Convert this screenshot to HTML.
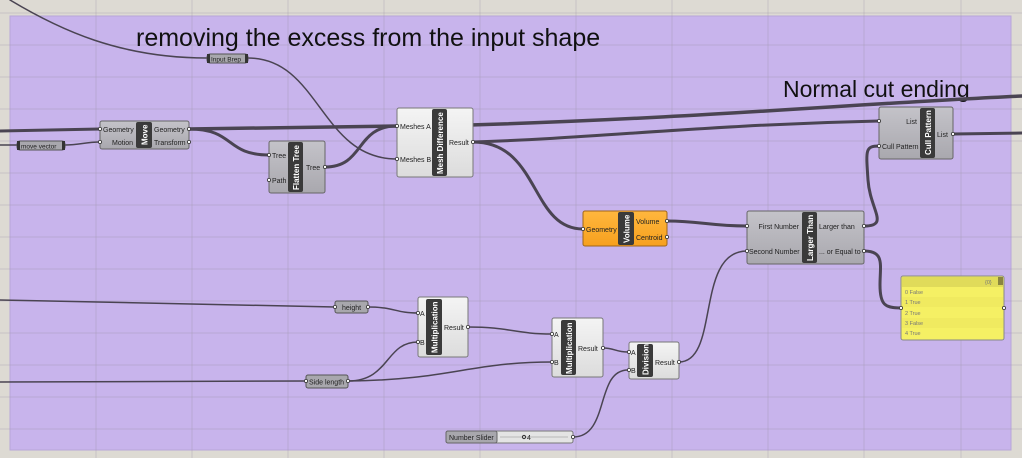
<!DOCTYPE html>
<html><head><meta charset="utf-8"><style>
html,body{margin:0;padding:0;width:1022px;height:458px;overflow:hidden;background:#dddad3}
svg{display:block}
text{font-family:"Liberation Sans",sans-serif}
</style></head><body>
<svg width="1022" height="458" viewBox="0 0 1022 458" xmlns="http://www.w3.org/2000/svg">
<defs>
<linearGradient id="gw" x1="0" y1="0" x2="0" y2="1"><stop offset="0" stop-color="#f4f4f4"/><stop offset="1" stop-color="#dcdcdc"/></linearGradient>
<linearGradient id="gg" x1="0" y1="0" x2="0" y2="1"><stop offset="0" stop-color="#c4c3c9"/><stop offset="1" stop-color="#a9a8ae"/></linearGradient>
<linearGradient id="go" x1="0" y1="0" x2="0" y2="1"><stop offset="0" stop-color="#ffb73e"/><stop offset="1" stop-color="#f7a01e"/></linearGradient>
</defs>
<rect x="0" y="0" width="1022" height="458" fill="#dddad3"/>
<rect x="10" y="16" width="1001" height="434" fill="#c8b4ec" stroke="#b8a6d8"/>
<g stroke="#9f94a8" stroke-opacity="0.35" stroke-width="1">
<line x1="96" y1="0" x2="96" y2="458"/><line x1="192" y1="0" x2="192" y2="458"/><line x1="288" y1="0" x2="288" y2="458"/><line x1="384" y1="0" x2="384" y2="458"/><line x1="480" y1="0" x2="480" y2="458"/><line x1="576" y1="0" x2="576" y2="458"/><line x1="672" y1="0" x2="672" y2="458"/><line x1="768" y1="0" x2="768" y2="458"/><line x1="864" y1="0" x2="864" y2="458"/><line x1="961" y1="0" x2="961" y2="458"/>
<line x1="0" y1="13" x2="1022" y2="13"/><line x1="0" y1="45" x2="1022" y2="45"/><line x1="0" y1="77" x2="1022" y2="77"/><line x1="0" y1="109" x2="1022" y2="109"/><line x1="0" y1="141" x2="1022" y2="141"/><line x1="0" y1="173" x2="1022" y2="173"/><line x1="0" y1="205" x2="1022" y2="205"/><line x1="0" y1="237" x2="1022" y2="237"/><line x1="0" y1="269" x2="1022" y2="269"/><line x1="0" y1="301" x2="1022" y2="301"/><line x1="0" y1="333" x2="1022" y2="333"/><line x1="0" y1="365" x2="1022" y2="365"/><line x1="0" y1="397" x2="1022" y2="397"/><line x1="0" y1="429" x2="1022" y2="429"/>
</g>
<text x="136" y="46" font-size="25" fill="#111">removing the excess from the input shape</text>
<text x="783" y="97" font-size="23" fill="#111">Normal cut ending</text>
<g fill="none" stroke="#4a4452" stroke-linecap="round">
<path d="M10,0 C60,30 120,58 207,58" stroke-width="1.5"/>
<path d="M248,58 C320,58 320,159 397,159" stroke-width="1.5"/>
<path d="M0,131 L100,129" stroke-width="3"/>
<path d="M0,145 L17,145" stroke-width="1.5"/>
<path d="M65,145 C80,145 85,142 100,142" stroke-width="1.5"/>
<path d="M189,129 L470,125 C700,118 850,104 1022,96" stroke-width="3.5"/>
<path d="M189,129 C235,129 225,155 269,155" stroke-width="3"/>
<path d="M325,167 C365,167 355,126 397,126" stroke-width="3"/>
<path d="M473,142 C600,138 700,125 879,121" stroke-width="3"/>
<path d="M473,142 C540,142 530,229 583,229" stroke-width="3"/>
<path d="M953,134 L1022,133" stroke-width="3"/>
<path d="M667,221 C700,221 710,226 747,226" stroke-width="3"/>
<path d="M864,226 C890,226 870,210 868,180 C866,150 865,146 879,146" stroke-width="3"/>
<path d="M864,251 C885,251 880,265 880,285 C880,305 885,308 901,308" stroke-width="3"/>
<path d="M0,300 L335,307" stroke-width="1.5"/>
<path d="M368,307 C395,307 395,313 418,313" stroke-width="1.5"/>
<path d="M0,382 L306,381" stroke-width="1.5"/>
<path d="M348,381 C390,381 385,342 418,342" stroke-width="1.5"/>
<path d="M348,381 C450,380 470,362 552,362" stroke-width="1.5"/>
<path d="M468,327 C510,327 515,334 552,334" stroke-width="1.5"/>
<path d="M603,348 C615,348 615,352 628,352" stroke-width="1.5"/>
<path d="M573,437 C610,437 595,370 628,370" stroke-width="1.5"/>
<path d="M679,362 C720,362 695,251 747,251" stroke-width="1.5"/>
</g>
<g font-size="7" fill="#222">
<!-- Input Brep -->
<rect x="207" y="54" width="41" height="9" rx="3" fill="#a8a7ad" stroke="#555"/>
<rect x="207" y="54" width="3" height="9" fill="#333"/><rect x="245" y="54" width="3" height="9" fill="#333"/>
<text x="211" y="61.5" font-size="6.5">Input Brep</text>
<!-- move vector -->
<rect x="17" y="141" width="48" height="9" rx="3" fill="#a8a7ad" stroke="#555"/>
<rect x="17" y="141" width="3" height="9" fill="#333"/><rect x="62" y="141" width="3" height="9" fill="#333"/>
<text x="21" y="148.5" font-size="6.5">move vector</text>
<!-- Move -->
<rect x="100" y="121" width="89" height="28" rx="2" fill="url(#gg)" stroke="#666"/>
<rect x="136" y="122" width="16" height="26" rx="2" fill="#3a3a3a"/>
<text transform="translate(147.5,145) rotate(-90)" font-size="8" font-weight="bold" fill="#fff">Move</text>
<text x="103" y="132">Geometry</text><text x="133" y="145" text-anchor="end">Motion</text>
<text x="154" y="132">Geometry</text><text x="154" y="145">Transform</text>
<!-- Flatten Tree -->
<rect x="269" y="141" width="56" height="52" rx="2" fill="url(#gg)" stroke="#666"/>
<rect x="288" y="142" width="15" height="50" rx="2" fill="#3a3a3a"/>
<text transform="translate(299,190) rotate(-90)" font-size="8" font-weight="bold" fill="#fff">Flatten Tree</text>
<text x="272" y="158">Tree</text><text x="272" y="183">Path</text><text x="306" y="170">Tree</text>
<!-- Mesh Difference -->
<rect x="397" y="108" width="76" height="69" rx="2" fill="url(#gw)" stroke="#777"/>
<rect x="432" y="109" width="15" height="67" rx="2" fill="#3a3a3a"/>
<text transform="translate(443,174) rotate(-90)" font-size="8" font-weight="bold" fill="#fff">Mesh Difference</text>
<text x="400" y="129">Meshes A</text><text x="400" y="162">Meshes B</text><text x="449" y="145">Result</text>
<!-- Volume -->
<rect x="583" y="211" width="84" height="35" rx="2" fill="url(#go)" stroke="#a0661a"/>
<rect x="618" y="212" width="16" height="33" rx="2" fill="#3a3a3a"/>
<text transform="translate(629.5,243) rotate(-90)" font-size="8" font-weight="bold" fill="#fff">Volume</text>
<text x="586" y="232">Geometry</text><text x="636" y="224">Volume</text><text x="636" y="240">Centroid</text>
<!-- Larger Than -->
<rect x="747" y="211" width="117" height="53" rx="2" fill="url(#gg)" stroke="#666"/>
<rect x="802" y="212" width="15" height="51" rx="2" fill="#3a3a3a"/>
<text transform="translate(813,261) rotate(-90)" font-size="8" font-weight="bold" fill="#fff">Larger Than</text>
<text x="799" y="229" text-anchor="end">First Number</text><text x="749" y="254">Second Number</text>
<text x="819" y="229">Larger than</text><text x="819" y="254">... or Equal to</text>
<!-- Cull Pattern -->
<rect x="879" y="107" width="74" height="52" rx="2" fill="url(#gg)" stroke="#666"/>
<rect x="920" y="108" width="15" height="50" rx="2" fill="#3a3a3a"/>
<text transform="translate(931,155) rotate(-90)" font-size="8" font-weight="bold" fill="#fff">Cull Pattern</text>
<text x="917" y="124" text-anchor="end">List</text><text x="882" y="149">Cull Pattern</text><text x="937" y="137">List</text>
<!-- Panel -->
<rect x="901" y="276" width="103" height="64" rx="2" fill="#f5f064" stroke="#888"/>
<rect x="902" y="277" width="101" height="10" fill="#e0db5a"/>
<rect x="998" y="277" width="5" height="8" fill="#8a8540"/>
<rect x="902" y="297" width="101" height="10" fill="#f0ea60"/><rect x="902" y="318" width="101" height="10" fill="#f0ea60"/>
<g font-family="Liberation Mono" font-size="5.5" fill="#777">
<text x="985" y="284">{0}</text>
<text x="905" y="294">0 False</text><text x="905" y="304">1 True</text><text x="905" y="315">2 True</text><text x="905" y="325">3 False</text><text x="905" y="335">4 True</text>
</g>
<!-- height -->
<rect x="335" y="301" width="33" height="12" rx="2" fill="#a8a7ad" stroke="#555"/>
<text x="342" y="310">height</text>
<!-- Side length -->
<rect x="306" y="375" width="42" height="13" rx="2" fill="#a8a7ad" stroke="#555"/>
<text x="309" y="384.5">Side length</text>
<!-- Mult1 -->
<rect x="418" y="297" width="50" height="60" rx="2" fill="url(#gw)" stroke="#777"/>
<rect x="426" y="299" width="16" height="56" rx="2" fill="#3a3a3a"/>
<text transform="translate(437.5,353) rotate(-90)" font-size="8" font-weight="bold" fill="#fff">Multiplication</text>
<text x="420" y="316">A</text><text x="420" y="345">B</text><text x="444" y="330">Result</text>
<!-- Mult2 -->
<rect x="552" y="318" width="51" height="59" rx="2" fill="url(#gw)" stroke="#777"/>
<rect x="561" y="320" width="15" height="55" rx="2" fill="#3a3a3a"/>
<text transform="translate(572,374) rotate(-90)" font-size="8" font-weight="bold" fill="#fff">Multiplication</text>
<text x="554" y="337">A</text><text x="554" y="365">B</text><text x="578" y="351">Result</text>
<!-- Division -->
<rect x="629" y="342" width="50" height="37" rx="2" fill="url(#gw)" stroke="#777"/>
<rect x="637" y="344" width="16" height="33" rx="2" fill="#3a3a3a"/>
<text transform="translate(648.5,375) rotate(-90)" font-size="8" font-weight="bold" fill="#fff">Division</text>
<text x="631" y="355">A</text><text x="631" y="373">B</text><text x="655" y="365">Result</text>
<!-- Number Slider -->
<rect x="446" y="431" width="127" height="12" rx="2" fill="#e4e4e4" stroke="#777"/>
<rect x="446" y="431" width="51" height="12" rx="2" fill="#a8a7ad" stroke="#666"/>
<text x="449" y="440">Number Slider</text>
<line x1="500" y1="437" x2="568" y2="437" stroke="#aaa" stroke-width="0.7"/>
<circle cx="524" cy="437" r="1.6" fill="none" stroke="#333"/>
<text x="527" y="440">4</text>
</g>
<g fill="#fff" stroke="#333" stroke-width="0.8">
<circle cx="100" cy="129" r="1.6"/><circle cx="100" cy="142" r="1.6"/><circle cx="189" cy="129" r="1.6"/><circle cx="189" cy="142" r="1.6"/>
<circle cx="269" cy="155" r="1.6"/><circle cx="269" cy="180" r="1.6"/><circle cx="325" cy="167" r="1.6"/>
<circle cx="397" cy="126" r="1.6"/><circle cx="397" cy="159" r="1.6"/><circle cx="473" cy="142" r="1.6"/>
<circle cx="583" cy="229" r="1.6"/><circle cx="667" cy="221" r="1.6"/><circle cx="667" cy="237" r="1.6"/>
<circle cx="747" cy="226" r="1.6"/><circle cx="747" cy="251" r="1.6"/><circle cx="864" cy="226" r="1.6"/><circle cx="864" cy="251" r="1.6"/>
<circle cx="879" cy="121" r="1.6"/><circle cx="879" cy="146" r="1.6"/><circle cx="953" cy="134" r="1.6"/>
<circle cx="901" cy="308" r="1.6"/><circle cx="1004" cy="308" r="1.6"/>
<circle cx="335" cy="307" r="1.6"/><circle cx="368" cy="307" r="1.6"/><circle cx="306" cy="381" r="1.6"/><circle cx="348" cy="381" r="1.6"/>
<circle cx="418" cy="313" r="1.6"/><circle cx="418" cy="342" r="1.6"/><circle cx="468" cy="327" r="1.6"/>
<circle cx="552" cy="334" r="1.6"/><circle cx="552" cy="362" r="1.6"/><circle cx="603" cy="348" r="1.6"/>
<circle cx="629" cy="352" r="1.6"/><circle cx="629" cy="370" r="1.6"/><circle cx="679" cy="362" r="1.6"/>
<circle cx="573" cy="437" r="1.6"/>
</g>
</svg>
</body></html>
